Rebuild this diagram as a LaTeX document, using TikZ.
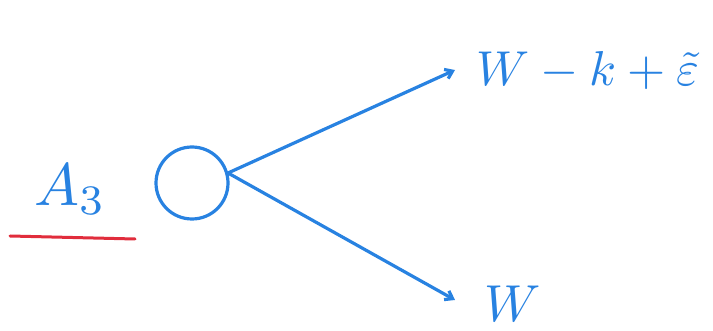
\documentclass[tikz,border=0pt]{standalone}
\usepackage{graphicx}
\usetikzlibrary{arrows.meta}
\definecolor{pen}{RGB}{40,130,225}
\definecolor{redpen}{RGB}{225,45,60}
\newcommand{\hugetext}[2]{\scalebox{#1}{#2}}
\tikzset{
  ink/.style={draw=pen, line width=3.2pt, line cap=round},
  lbl/.style={text=pen, inner sep=0pt},
  tip/.style={-{Straight Barb[length=7pt,width=10pt]}}
}
\begin{document}
\begin{tikzpicture}[x=1pt,y=-1pt]
\useasboundingbox (0,0) rectangle (713,331);
\node[ink, circle, minimum size=72pt, inner sep=0pt] (c) at (192,183) {};
\node[lbl, anchor=base west] (top) at (476,86) {\hugetext{4.9}{$W - k + \tilde{\varepsilon}$}};
\node[lbl, anchor=base west] (bot) at (484,322) {\hugetext{5.2}{$W$}};
\node[lbl, anchor=base west] (a) at (34,206) {\hugetext{6}{$A_3$}};
\coordinate (s) at (228,173);
\coordinate (te) at (455,70);
\coordinate (be) at (455,300);
\draw[ink, tip] (s) -- (te);
\draw[ink, tip] (s) -- (be);
\coordinate (r1) at (10,236);
\coordinate (r2) at (135,239);
\draw[draw=redpen, line width=3pt, line cap=round] (r1) -- (r2);
\end{tikzpicture}
\end{document}
